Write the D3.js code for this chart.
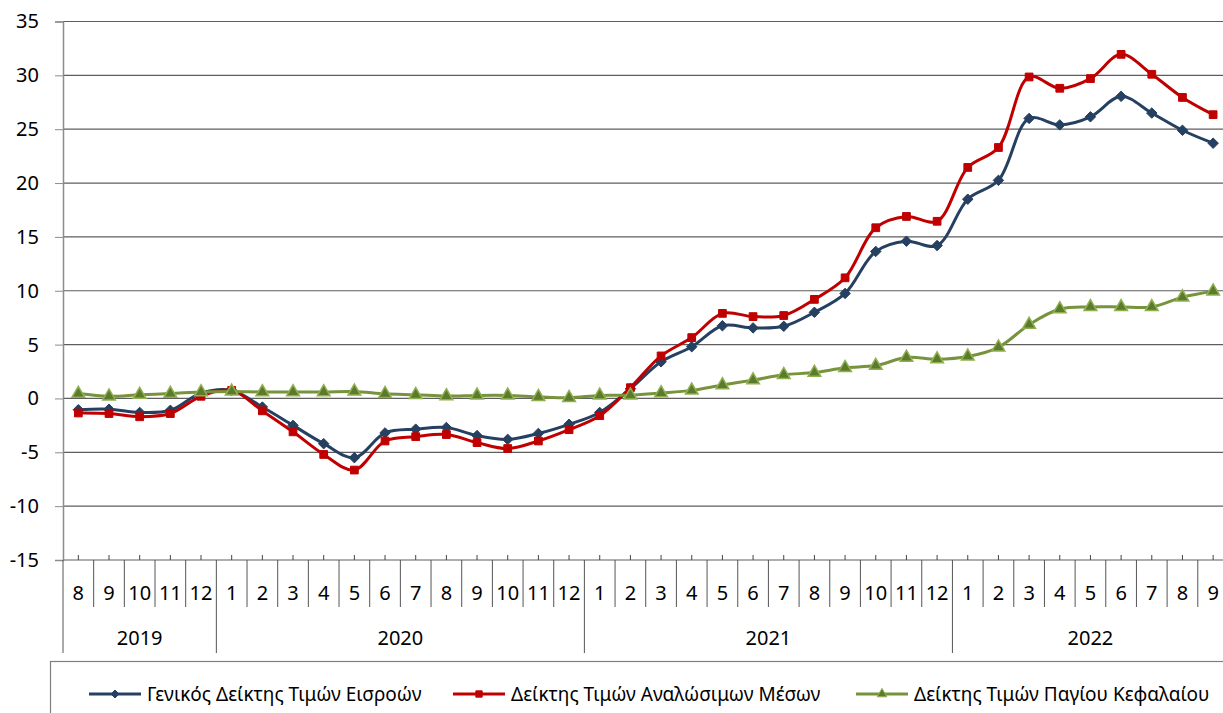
<!DOCTYPE html>
<html>
<head>
<meta charset="utf-8">
<script src="https://cdn.jsdelivr.net/npm/d3@7"></script>
<style>
body { margin: 0; background: #fff; }
svg { display: block; font-family: "Noto Sans", sans-serif; }
</style>
</head>
<body>
<svg id="chart" width="1223" height="713"></svg>
<script>
// month labels, one per point
var months = [8,9,10,11,12, 1,2,3,4,5,6,7,8,9,10,11,12, 1,2,3,4,5,6,7,8,9,10,11,12, 1,2,3,4,5,6,7,8,9];
var yearLabels = ["2019","2020","2021","2022"];
var yearCounts = [5,12,12,9];
var yTicks = [-15,-10,-5,0,5,10,15,20,25,30,35];

var general = [-1.05,-1.0,-1.3,-1.1,0.5, 0.75,-0.8,-2.5,-4.2,-5.5,-3.2,-2.85,-2.7,-3.45,-3.8,-3.25,-2.4,
  -1.3,0.9,3.4,4.8,6.75,6.55,6.7,8.0,9.75,13.65,14.6,14.2, 18.5,20.25,26.0,25.4,26.15,28.05,26.5,24.9,23.7];
var consumables = [-1.35,-1.4,-1.7,-1.4,0.2, 0.75,-1.15,-3.1,-5.2,-6.65,-3.95,-3.55,-3.35,-4.1,-4.65,-3.95,-2.9,
  -1.6,1.0,3.95,5.65,7.9,7.6,7.7,9.2,11.2,15.85,16.9,16.45, 21.45,23.3,29.85,28.8,29.7,31.95,30.1,27.95,26.35];
var capital = [0.45,0.2,0.35,0.45,0.6, 0.65,0.6,0.6,0.6,0.65,0.43,0.34,0.22,0.28,0.28,0.15,0.06,
  0.28,0.3,0.5,0.75,1.25,1.7,2.2,2.4,2.85,3.05,3.8,3.65, 3.9,4.75,6.85,8.3,8.5,8.5,8.5,9.4,9.95];

var seriesNames = ["Γενικός Δείκτης Τιμών Εισροών", "Δείκτης Τιμών Αναλώσιμων Μέσων", "Δείκτης Τιμών Παγίου Κεφαλαίου"];
var seriesData = [general, consumables, capital];
var colors = ["#254061", "#C00000", "#77933C"];
var markers = [d3.symbolDiamond2, d3.symbolSquare, d3.symbolTriangle];

var svg = d3.select("#chart");
var plotLeft = 63, plotTop = 21.5, plotBottom = 560, step = 30.67;

var x = d3.scaleBand().domain(d3.range(months.length)).range([plotLeft, plotLeft + step * months.length]);
var y = d3.scaleLinear().domain([-15, 35]).range([plotBottom, plotTop]);

// gridlines
svg.append("g").selectAll("line").data(yTicks).enter().append("line")
  .attr("x1", plotLeft).attr("x2", 1223)
  .attr("y1", d => y(d)).attr("y2", d => y(d))
  .attr("stroke", "#5e5e5e").attr("stroke-width", 1.2);

// y axis (plain hyphen for negatives, like the original)
var yAxis = svg.append("g").attr("transform", "translate(" + plotLeft + ",0)")
  .call(d3.axisLeft(y).tickValues(yTicks).tickFormat(d => String(d)).tickSize(8).tickPadding(16));
yAxis.select(".domain").attr("stroke", "#8c8c8c").attr("stroke-width", 1.5);
yAxis.selectAll(".tick line").attr("stroke", "#8c8c8c");
yAxis.selectAll("text").attr("font-size", 20).attr("fill", "#000").attr("font-family", "Noto Sans");

// x axis: small ticks at the category centres, above the axis
svg.append("g").selectAll("line").data(months).enter().append("line")
  .attr("x1", (d, i) => x(i) + x.bandwidth() / 2).attr("x2", (d, i) => x(i) + x.bandwidth() / 2)
  .attr("y1", plotBottom - 5).attr("y2", plotBottom)
  .attr("stroke", "#444");

// month dividers and labels
var yearStarts = [0];
yearCounts.forEach(function (c, i) { yearStarts.push(yearStarts[i] + c); });

svg.append("g").selectAll("line").data(d3.range(months.length + 1)).enter().append("line")
  .attr("x1", i => plotLeft + i * step).attr("x2", i => plotLeft + i * step)
  .attr("y1", plotBottom)
  .attr("y2", i => yearStarts.includes(i) ? 653 : 607)
  .attr("stroke", "#555").attr("stroke-width", 1);

svg.append("g").selectAll("text").data(months).enter().append("text")
  .attr("x", (d, i) => x(i) + x.bandwidth() / 2)
  .attr("y", 600)
  .attr("text-anchor", "middle").attr("font-size", 20)
  .text(d => d);

svg.append("g").selectAll("text").data(yearLabels).enter().append("text")
  .attr("x", (d, i) => plotLeft + (yearStarts[i] + yearCounts[i] / 2) * step)
  .attr("y", 645)
  .attr("text-anchor", "middle").attr("font-size", 20)
  .text(d => d);

// lines
var line = d3.line()
  .x((d, i) => x(i) + x.bandwidth() / 2)
  .y(d => y(d))
  .curve(d3.curveCatmullRom.alpha(0.5));

seriesData.forEach(function (vals, s) {
  var g = svg.append("g");
  g.append("path").datum(vals)
    .attr("d", line)
    .attr("fill", "none")
    .attr("stroke", colors[s])
    .attr("stroke-width", 3);
  g.selectAll("path.m").data(vals).enter().append("path")
    .attr("class", "m")
    .attr("transform", (d, i) => "translate(" + (x(i) + x.bandwidth() / 2) + "," + y(d) + ")")
    .attr("d", d3.symbol().type(markers[s]).size(s === 1 ? 60 : 70))
    .attr("fill", s === 2 ? "#5c7a2c" : colors[s])
    .attr("stroke", s === 2 ? "#8fb04f" : colors[s])
    .attr("stroke-width", s === 2 ? 1.5 : 1);
});

// legend
svg.append("rect")
  .attr("x", 50.5).attr("y", 661.5).attr("width", 1200).attr("height", 80)
  .attr("fill", "none").attr("stroke", "#7f7f7f").attr("stroke-width", 1.2);

var legendX = [89, 453, 856];
var legend = svg.append("g").selectAll("g").data(seriesNames).enter().append("g")
  .attr("transform", (d, i) => "translate(" + legendX[i] + ",694)");
legend.append("line")
  .attr("x1", 0).attr("x2", 52).attr("y1", 0).attr("y2", 0)
  .attr("stroke", (d, i) => colors[i]).attr("stroke-width", 3);
legend.append("path")
  .attr("transform", "translate(26,0)")
  .attr("d", (d, i) => d3.symbol().type(markers[i]).size(40)())
  .attr("fill", (d, i) => i === 2 ? "#5c7a2c" : colors[i])
  .attr("stroke", (d, i) => i === 2 ? "#8fb04f" : colors[i]);
legend.append("text")
  .attr("x", 58).attr("y", 7)
  .attr("font-size", 19)
  .text(d => d);
</script>
</body>
</html>
